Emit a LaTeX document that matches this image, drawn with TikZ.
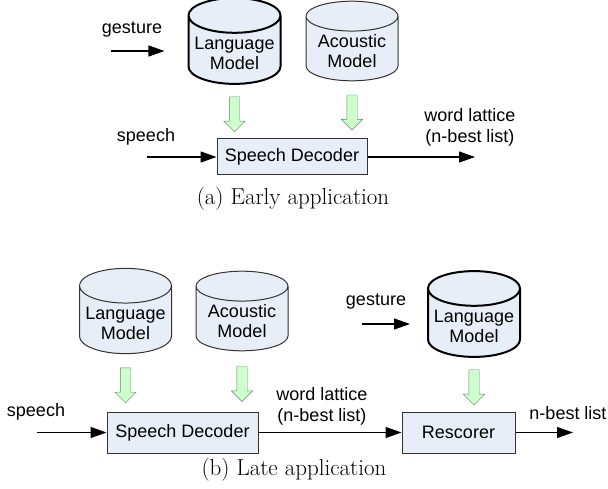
\documentclass[tikz,border=0pt]{standalone}
\usepackage{fontspec}
\setsansfont{Liberation Sans}
\usepackage{tikz}
\usetikzlibrary{shapes.geometric, shapes.arrows, arrows.meta, positioning}

\definecolor{boxfill}{RGB}{232,238,247}
\definecolor{greenfill}{RGB}{204,255,204}
\definecolor{greenline}{RGB}{105,130,105}
\newcommand{\lab}{\sffamily\fontsize{18}{21}\selectfont}

\begin{document}
\begin{tikzpicture}[
    x=1pt, y=-1pt,
    db/.style={cylinder, shape border rotate=90, aspect=0.4, anchor=shape center, draw=black!80, fill=boxfill, line width=1pt, minimum width=92pt, minimum height=72pt, align=center, font=\lab},
    bolddb/.style={db, line width=2pt, draw=black},
    box/.style={rectangle, draw=black!80, fill=boxfill, line width=1pt, minimum width=150pt, minimum height=36pt, font=\lab},
    fat/.style={single arrow, rotate=-90, draw=greenline, fill=greenfill, inner sep=5pt, minimum height=35pt, single arrow head extend=5.5pt, single arrow head indent=0pt},
    lbl/.style={font=\lab, align=center},
    captext/.style={font=\fontsize{23}{27}\selectfont},
    arrow/.style={-{Triangle[length=16pt, width=11pt]}, line width=1.2pt}
]
\useasboundingbox (0,0) rectangle (608,489);

% (a) early application
\node[bolddb] (lmA) at (234.5,41) {Language\\[-1pt]Model};
\node[db] (amA) at (352,41) {Acoustic\\[-1pt]Model};
\node[box] (sdA) at (292,157) {Speech Decoder};
\node[lbl] (gestA) at (132,30) {gesture};
\node[lbl] (speechA) at (146,137) {speech};
\node[lbl] (wlA) at (470,127) {word lattice\\(n-best list)};
\coordinate (gA) at (111,51);
\coordinate (sA) at (147,157);
\coordinate (outA) at (475,157);
\node[captext] (capA) at (293,199) {(a) Early application};

\draw[arrow] (gA) -- ([xshift=-23pt]lmA.west |- gA);
\draw[arrow] (sA) -- (sdA.west);
\draw[arrow] (sdA.east) -- (outA);
\path (lmA.south) -- node[fat] {} (lmA.south |- sdA.north);
\path (amA.south) -- node[fat] {} (amA.south |- sdA.north);

% (b) late application
\node[db] (lmB) at (125.5,311) {Language\\[-1pt]Model};
\node[db] (amB) at (242,311) {Acoustic\\[-1pt]Model};
\node[bolddb] (lmC) at (474,314) {Language\\[-1pt]Model};
\node[box, minimum height=41pt, minimum width=151pt] (sdB) at (182.5,432.5) {Speech Decoder};
\node[box, minimum height=41pt, minimum width=113pt] (rsB) at (458.5,432.5) {Rescorer};
\node[lbl] (speechB) at (36,412) {speech};
\node[lbl] (gestB) at (376,302) {gesture};
\node[lbl] (wlB) at (322,406) {word lattice\\(n-best list)};
\node[lbl] (nbB) at (568,413) {n-best list};
\coordinate (sB) at (37,432.5);
\coordinate (gB) at (362,324);
\coordinate (outB) at (573,432.5);
\node[captext] (capB) at (294,470) {(b) Late application};

\draw[arrow] (sB) -- (sdB.west);
\draw[arrow] (sdB.east) -- (rsB.west);
\draw[arrow] (rsB.east) -- (outB);
\draw[arrow] (gB) -- ([xshift=-17pt]lmC.west |- gB);
\path (lmB.south) -- node[fat] {} (lmB.south |- sdB.north);
\path (amB.south) -- node[fat] {} (amB.south |- sdB.north);
\path (lmC.south) -- node[fat] {} (lmC.south |- rsB.north);
\end{tikzpicture}
\end{document}
